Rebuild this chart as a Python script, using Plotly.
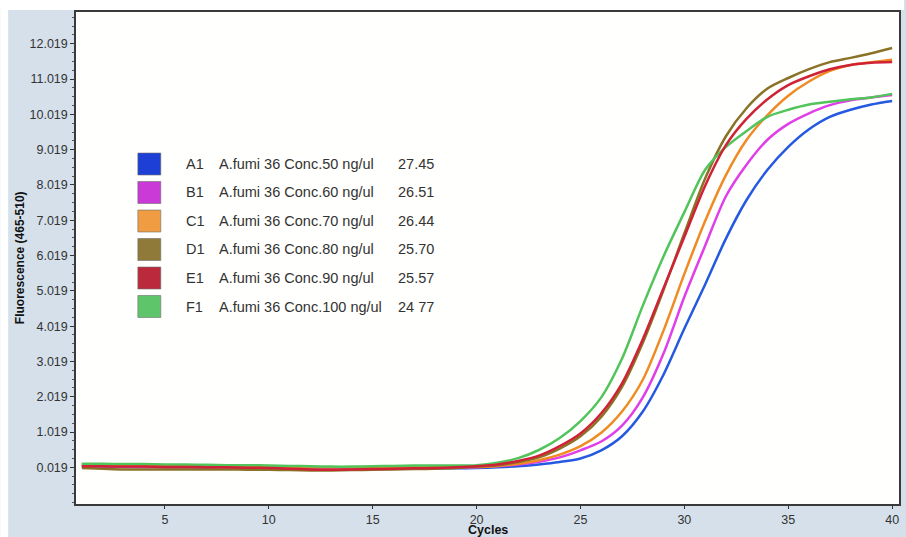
import plotly.graph_objects as go

cycles = list(range(1, 41))

wells = ["A1", "B1", "C1", "D1", "E1", "F1"]
labels = ["A.fumi 36 Conc.50 ng/ul", "A.fumi 36 Conc.60 ng/ul", "A.fumi 36 Conc.70 ng/ul",
          "A.fumi 36 Conc.80 ng/ul", "A.fumi 36 Conc.90 ng/ul", "A.fumi 36 Conc.100 ng/ul"]
ct_values = ["27.45", "26.51", "26.44", "25.70", "25.57", "24 77"]

y_tick_values = [0.019, 1.019, 2.019, 3.019, 4.019, 5.019, 6.019, 7.019, 8.019, 9.019, 10.019, 11.019, 12.019]
y_tick_labels = ["0.019", "1.019", "2.019", "3.019", "4.019", "5.019", "6.019", "7.019", "8.019", "9.019",
                 "10.019", "11.019", "12.019"]
x_tick_values = [5, 10, 15, 20, 25, 30, 35, 40]

a1 = [0.05, 0.04, 0.03, 0.03, 0.02, 0.02, 0.01, 0.00, -0.01, -0.02, -0.03, -0.04, -0.04, -0.03, -0.03, -0.02, -0.02, -0.01, -0.01,
      0.00, 0.02, 0.05, 0.10, 0.17, 0.27, 0.50, 0.90, 1.60, 2.65, 3.95, 5.20, 6.50, 7.60, 8.45, 9.10, 9.60, 9.95, 10.15, 10.30, 10.40]
b1 = [0.06, 0.05, 0.04, 0.03, 0.03, 0.02, 0.02, 0.01, 0.00, -0.01, -0.02, -0.03, -0.03, -0.03, -0.02, -0.01, 0.00, 0.00, 0.01,
      0.02, 0.05, 0.10, 0.18, 0.30, 0.50, 0.75, 1.20, 2.00, 3.25, 4.85, 6.30, 7.70, 8.60, 9.30, 9.75, 10.05, 10.28, 10.42, 10.50, 10.57]
c1 = [0.10, 0.09, 0.08, 0.08, 0.07, 0.07, 0.06, 0.05, 0.05, 0.04, 0.03, 0.02, 0.02, 0.02, 0.03, 0.03, 0.04, 0.04, 0.04,
      0.03, 0.06, 0.12, 0.22, 0.38, 0.62, 1.00, 1.60, 2.50, 3.90, 5.50, 7.00, 8.30, 9.30, 10.00, 10.55, 10.95, 11.25, 11.42, 11.50, 11.57]
d1 = [0.00, -0.02, -0.04, -0.04, -0.04, -0.04, -0.04, -0.04, -0.05, -0.05, -0.06, -0.07, -0.07, -0.06, -0.05, -0.04, -0.03, -0.02, 0.00,
      0.04, 0.08, 0.17, 0.30, 0.55, 0.90, 1.45, 2.30, 3.55, 5.05, 6.65, 8.20, 9.40, 10.20, 10.75, 11.05, 11.30, 11.50, 11.62, 11.75, 11.90]
e1 = [0.05, 0.05, 0.04, 0.04, 0.03, 0.03, 0.02, 0.02, 0.01, 0.00, -0.02, -0.04, -0.05, -0.04, -0.03, -0.02, -0.01, 0.00, 0.02,
      0.05, 0.10, 0.20, 0.35, 0.62, 0.98, 1.55, 2.40, 3.65, 5.10, 6.55, 8.00, 9.15, 9.90, 10.45, 10.85, 11.10, 11.30, 11.42, 11.48, 11.50]
f1 = [0.12, 0.12, 0.11, 0.11, 0.10, 0.10, 0.09, 0.08, 0.08, 0.07, 0.06, 0.05, 0.04, 0.04, 0.05, 0.06, 0.07, 0.07, 0.07,
      0.08, 0.15, 0.28, 0.51, 0.85, 1.33, 2.00, 3.10, 4.60, 6.00, 7.25, 8.45, 9.10, 9.55, 9.95, 10.15, 10.30, 10.38, 10.45, 10.50, 10.60]

series = {"A1": a1, "B1": b1, "C1": c1, "D1": d1, "E1": e1, "F1": f1}
line_colors = {"A1": "#2459e0", "B1": "#e03ee8", "C1": "#f08a22", "D1": "#8a7326", "E1": "#cf2236", "F1": "#52c45c"}
swatch_colors = {"A1": "#1d3fd6", "B1": "#c93ad6", "C1": "#ef9c42", "D1": "#8f7a3a", "E1": "#bb2a3c", "F1": "#5fc56a"}
draw_order = ["A1", "B1", "C1", "D1", "F1", "E1"]

# geometry in page pixels (page body margin removed by post_script)
W, H = 906, 537
ML, MR, MT, MB = 76, 5, 12, 33
PW, PH = W - ML - MR, H - MT - MB

def px_x(p):
    return (p - ML) / PW

def px_y(p):
    return (H - MB - p) / PH

fig = go.Figure()
for w in draw_order:
    fig.add_trace(go.Scatter(x=cycles, y=series[w], mode="lines",
                             line=dict(color=line_colors[w], width=2.5, shape="spline", smoothing=0.8),
                             showlegend=False, hoverinfo="skip"))

font_family = "Liberation Sans, Arial, sans-serif"
shapes = []
annotations = []

# white strips at the top and the left, outside the blue panel
shapes.append(dict(type="rect", xref="paper", yref="paper", x0=px_x(0), x1=px_x(W), y0=px_y(10), y1=px_y(0),
                   fillcolor="white", line=dict(width=0), layer="below"))
shapes.append(dict(type="rect", xref="paper", yref="paper", x0=px_x(0), x1=px_x(8), y0=px_y(H), y1=px_y(0),
                   fillcolor="white", line=dict(width=0), layer="below"))

row_y = [164, 192.5, 221, 249.5, 278, 306.5]
for i, w in enumerate(wells):
    yc = row_y[i]
    shapes.append(dict(type="rect", xref="paper", yref="paper",
                       x0=px_x(138), x1=px_x(161), y0=px_y(yc + 11), y1=px_y(yc - 11),
                       fillcolor=swatch_colors[w], line=dict(color="rgba(110,110,110,0.6)", width=1)))
    for xpos, txt in [(184, w), (217, labels[i]), (397, ct_values[i])]:
        annotations.append(dict(xref="paper", yref="paper", x=px_x(xpos), y=px_y(yc), text=txt,
                                showarrow=False, xanchor="left", yanchor="middle",
                                font=dict(family=font_family, size=14.5, color="#333333")))

annotations.append(dict(xref="paper", yref="paper", x=px_x(20), y=0.5, text="<b>Fluorescence (465-510)</b>",
                        textangle=-90, showarrow=False, xanchor="center", yanchor="middle",
                        font=dict(family=font_family, size=12, color="#111111")))
annotations.append(dict(xref="paper", yref="paper", x=0.5, y=px_y(529.5), text="<b>Cycles</b>",
                        showarrow=False, xanchor="center", yanchor="middle",
                        font=dict(family=font_family, size=12.5, color="#111111")))

fig.update_layout(
    width=W, height=H,
    margin=dict(l=ML, r=MR, t=MT, b=MB, pad=0),
    paper_bgcolor="#d5e0eb",
    plot_bgcolor="#fffffd",
    shapes=shapes,
    annotations=annotations,
    font=dict(family=font_family, size=12.5, color="#333333"),
    showlegend=False,
)
fig.update_xaxes(range=[0.72, 40.33], tickmode="array", tickvals=x_tick_values, ticks="outside", ticklen=3,
                 tickcolor="#333333", showgrid=False, zeroline=False, showline=True, linecolor="#3a3a3a",
                 linewidth=1.5, mirror=True, tickfont=dict(size=12.5, color="#333333"))
fig.update_yaxes(range=[-1.02, 12.92], tickmode="array", tickvals=y_tick_values, ticktext=y_tick_labels,
                 ticks="outside", ticklen=4, tickcolor="#333333", showgrid=False, zeroline=False, showline=True,
                 linecolor="#3a3a3a", linewidth=1.5, mirror=True, tickfont=dict(size=12.5, color="#333333"),
                 minor=dict(tick0=0.019, dtick=0.25, ticks="outside", ticklen=2, tickcolor="#555555", showgrid=False))

fig.write_html("out.html", config={"displayModeBar": False},
               post_script="document.body.style.margin='0';document.body.style.overflow='hidden';"
                           "document.documentElement.style.overflow='hidden';")
